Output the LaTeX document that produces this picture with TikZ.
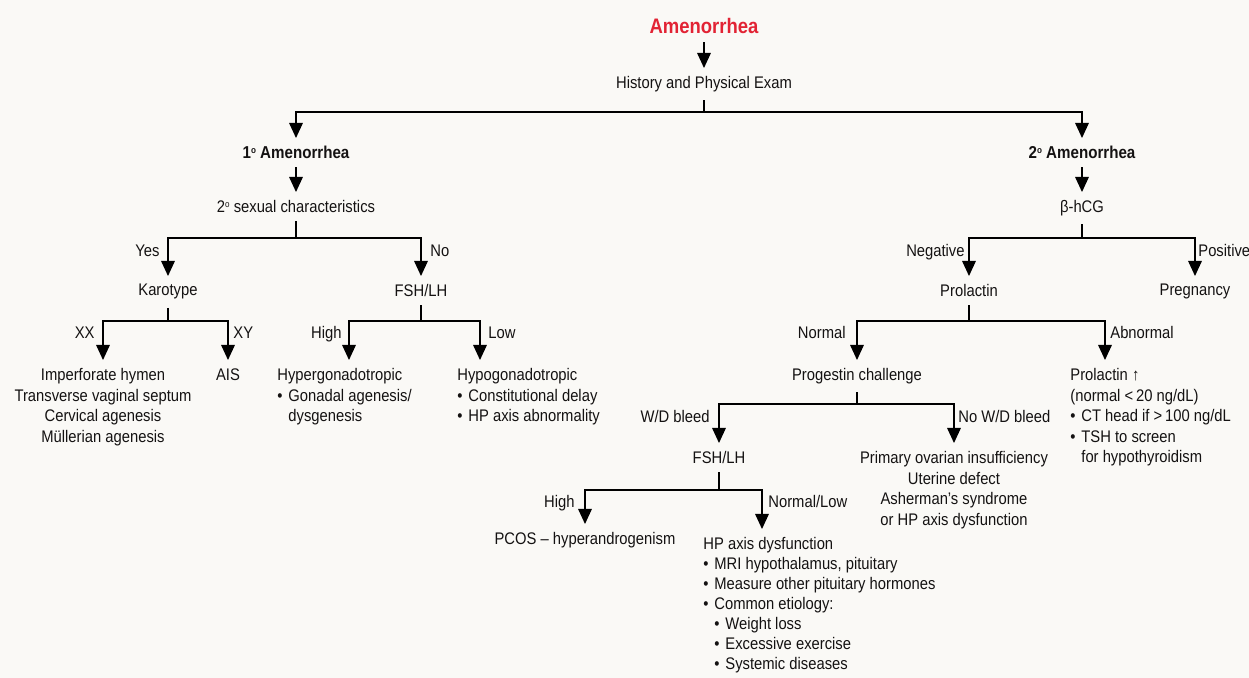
\documentclass[tikz,border=0pt]{standalone}
\usepackage{fontspec}
\setmainfont{Liberation Sans}[FakeStretch=0.88]
\usetikzlibrary{arrows.meta}

\definecolor{amred}{RGB}{226,35,52}
\definecolor{paper}{RGB}{250,249,246}
\definecolor{ink}{RGB}{20,18,18}

\newcommand{\itm}{\makebox[5.5pt][l]{\textbullet}}
\newcommand{\ind}{\hspace*{5.5pt}}
\newcommand{\ordsup}{\raisebox{2.6pt}{\fontsize{4.6}{5}\selectfont o}}

\begin{document}
\begin{tikzpicture}[x=0.5pt,y=-0.5pt,
    every node/.style={font=\fontsize{8.4}{10.3}\selectfont, text=ink, inner xsep=0pt, inner ysep=4pt},
    box/.style={anchor=north, align=center},
    lbox/.style={anchor=north west, align=left},
    lbl/.style={inner sep=0pt},
    line/.style={line width=0.6pt},
    arr/.style={line width=0.6pt, -{Triangle[width=6.8pt,length=7.5pt]}}]

    \fill[paper] (0,0) rectangle (1249,678);
    \useasboundingbox (0,0) rectangle (1249,678);

    % top
    \node[box, font=\fontsize{10.5}{12}\selectfont\bfseries, text=amred] (amen) at (704,10) {Amenorrhea};
    \node[box] (hist) at (704,68) {History and Physical Exam};
    \coordinate (s0) at (704,112);
    \draw[arr] (amen.south) -- (hist.north);
    \draw[line] (hist.south) -- (s0);

    % primary branch
    \node[box, font=\fontsize{8.6}{10.3}\selectfont\bfseries] (prim) at (296,138) {1\ordsup\ Amenorrhea};
    \node[box] (sex) at (296,192) {2\ordsup\ sexual characteristics};
    \draw[arr] (s0) -| (prim.north);
    \draw[arr] (prim.south) -- (sex.north);

    \coordinate (s1) at (296,238);
    \node[box] (karo) at (168,276) {Karotype};
    \node[box] (fsh) at (421,276) {FSH/LH};
    \draw[line] (sex.south) -- (s1);
    \draw[arr] (s1) -| (karo.north);
    \draw[arr] (s1) -| (fsh.north);
    \node[lbl, anchor=base east] (yes) at (160,257) {Yes};
    \node[lbl, anchor=base west] (no) at (430,257) {No};

    \coordinate (s2) at (168,321);
    \node[box] (mull) at (103,360) {Imperforate hymen\\Transverse vaginal septum\\Cervical agenesis\\Müllerian agenesis};
    \node[box] (ais) at (228,360) {AIS};
    \draw[line] (karo.south) -- (s2);
    \draw[arr] (s2) -| (mull.north);
    \draw[arr] (s2) -| (ais.north);
    \node[lbl, anchor=base east] (xx) at (95,339) {XX};
    \node[lbl, anchor=base west] (xy) at (233,339) {XY};

    \coordinate (s3) at (421,321);
    \node[lbox] (hyper) at (277,360) {Hypergonadotropic\\\itm Gonadal agenesis/\\\ind dysgenesis};
    \node[lbox] (hypo) at (457,360) {Hypogonadotropic\\\itm Constitutional delay\\\itm HP axis abnormality};
    \draw[line] (fsh.south) -- (s3);
    \draw[arr] (s3) -| ([xshift=36pt]hyper.north west);
    \draw[arr] (s3) -| ([xshift=11.5pt]hypo.north west);
    \node[lbl, anchor=base east] (hi1) at (342,339) {High};
    \node[lbl, anchor=base west] (lo1) at (488,339) {Low};

    % secondary branch
    \node[box, font=\fontsize{8.6}{10.3}\selectfont\bfseries] (sec) at (1082,138) {2\ordsup\ Amenorrhea};
    \node[box] (hcg) at (1082,192) {β-hCG};
    \draw[arr] (s0) -| (sec.north);
    \draw[arr] (sec.south) -- (hcg.north);

    \coordinate (s4) at (1082,238);
    \node[box] (prl) at (969,276) {Prolactin};
    \node[box] (preg) at (1195,276) {Pregnancy};
    \draw[line] (hcg.south) -- (s4);
    \draw[arr] (s4) -| (prl.north);
    \draw[arr] (s4) -| (preg.north);
    \node[lbl, anchor=base east] (neg) at (965,257) {Negative};
    \node[lbl, anchor=base west] (pos) at (1198,257) {Positive};

    \coordinate (s5) at (969,321);
    \node[box] (prog) at (857,360) {Progestin challenge};
    \node[lbox] (prlup) at (1070,360) {Prolactin ↑\\(normal <\,20 ng/dL)\\\itm CT head if >\,100 ng/dL\\\itm TSH to screen\\\ind for hypothyroidism};
    \draw[line] (prl.south) -- (s5);
    \draw[arr] (s5) -| (prog.north);
    \draw[arr] (s5) -| ([xshift=17.5pt]prlup.north west);
    \node[lbl, anchor=base east] (norm) at (846,339) {Normal};
    \node[lbl, anchor=base west] (abn) at (1110,339) {Abnormal};

    \coordinate (s6) at (857,404);
    \node[box] (fsh2) at (719,443) {FSH/LH};
    \node[box] (poi) at (954,443) {Primary ovarian insufficiency\\Uterine defect\\Asherman’s syndrome\\or HP axis dysfunction};
    \draw[line] (prog.south) -- (s6);
    \draw[arr] (s6) -| (fsh2.north);
    \draw[arr] (s6) -| (poi.north);
    \node[lbl, anchor=base east] (wd) at (710,423) {W/D bleed};
    \node[lbl, anchor=base west] (nowd) at (958,423) {No W/D bleed};

    \coordinate (s7) at (719,490);
    \node[box] (pcos) at (585,524) {PCOS -- hyperandrogenism};
    \node[lbox, font=\fontsize{8.4}{10}\selectfont] (hpax) at (703,529) {HP axis dysfunction\\\itm MRI hypothalamus, pituitary\\\itm Measure other pituitary hormones\\\itm Common etiology:\\\ind\itm Weight loss\\\ind\itm Excessive exercise\\\ind\itm Systemic diseases};
    \draw[line] (fsh2.south) -- (s7);
    \draw[arr] (s7) -| (pcos.north);
    \draw[arr] (s7) -| ([xshift=29.5pt]hpax.north west);
    \node[lbl, anchor=base east] (hi2) at (575,508) {High};
    \node[lbl, anchor=base west] (nl) at (768,508) {Normal/Low};

\end{tikzpicture}
\end{document}
